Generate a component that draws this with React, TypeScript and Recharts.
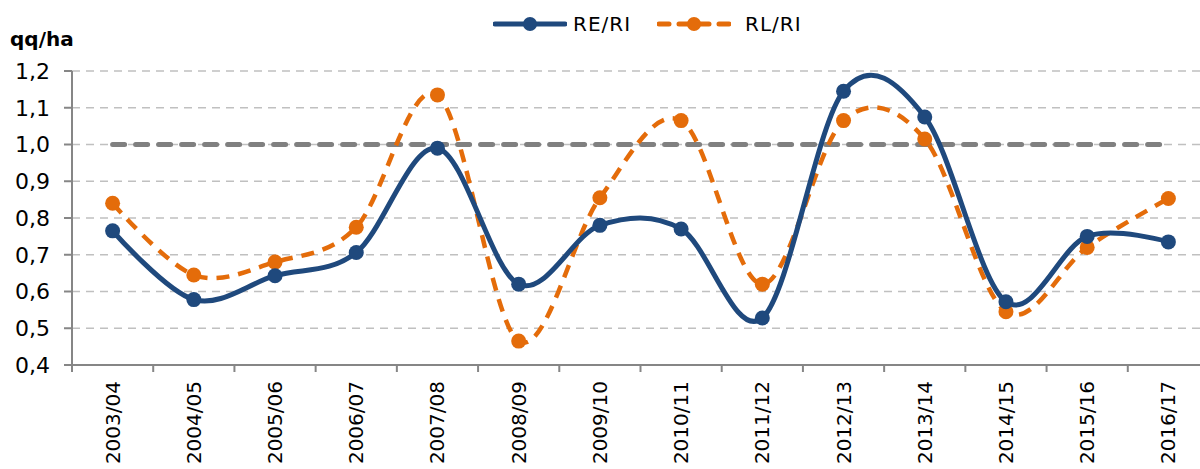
import { LineChart, Line, XAxis, YAxis, CartesianGrid, ReferenceLine } from "recharts";

const campaigns = [
  "2003/04", "2004/05", "2005/06", "2006/07", "2007/08", "2008/09", "2009/10",
  "2010/11", "2011/12", "2012/13", "2013/14", "2014/15", "2015/16", "2016/17",
];
const reRi = [0.765, 0.578, 0.643, 0.706, 0.99, 0.62, 0.78, 0.77, 0.528, 1.145, 1.075, 0.572, 0.75, 0.735];
const rlRi = [0.84, 0.645, 0.68, 0.775, 1.135, 0.465, 0.855, 1.065, 0.62, 1.065, 1.015, 0.545, 0.72, 0.853];
const yTicks = [0.4, 0.5, 0.6, 0.7, 0.8, 0.9, 1.0, 1.1, 1.2];
const threshold = 1;

const BLUE = "#1F497D";
const ORANGE = "#E46C0A";

const data = campaigns.map((c, i) => ({ name: c, re: reRi[i], rl: rlRi[i] }));

// Excel-style smoothing (Catmull-Rom, tangent/6)
const smooth = (context: any) => {
  let x0 = NaN, x1 = NaN, x2 = NaN, y0 = NaN, y1 = NaN, y2 = NaN;
  let pt = 0;
  let line: number | undefined;
  const k = 1 / 6;
  const seg = (x: number, y: number) => {
    context.bezierCurveTo(
      x1 + k * (x2 - x0), y1 + k * (y2 - y0),
      x2 + k * (x1 - x), y2 + k * (y1 - y),
      x2, y2
    );
  };
  return {
    areaStart() { line = 0; },
    areaEnd() { line = NaN; },
    lineStart() { x0 = x1 = x2 = y0 = y1 = y2 = NaN; pt = 0; },
    lineEnd() {
      if (pt === 2) context.lineTo(x2, y2);
      else if (pt === 3) seg(x1, y1);
      if (line || (line !== 0 && pt === 1)) context.closePath();
      line = 1 - (line as number);
    },
    point(x: number, y: number) {
      x = +x; y = +y;
      if (pt === 0) { pt = 1; line ? context.lineTo(x, y) : context.moveTo(x, y); }
      else if (pt === 1) { pt = 2; x1 = x; y1 = y; }
      else { pt = 3; seg(x, y); }
      x0 = x1; x1 = x2; x2 = x;
      y0 = y1; y1 = y2; y2 = y;
    },
  };
};

const CHART_W = 1210;
const PLOT_LEFT = 72;
const STEP = (CHART_W - 1 - PLOT_LEFT) / campaigns.length;

const XTick = (props: any) => {
  const { x, y, payload } = props;
  return (
    <g>
      <line x1={x - STEP / 2} y1={y - 8} x2={x - STEP / 2} y2={y - 1} stroke="#868686" strokeWidth={2} />
      <text
        x={x}
        y={y + 8}
        transform={`rotate(-90, ${x}, ${y + 8})`}
        textAnchor="end"
        dominantBaseline="central"
        fontFamily="DejaVu Sans"
        fontSize={20}
        fill="#000"
      >
        {payload.value}
      </text>
    </g>
  );
};

const LegendItem = ({ color, dashed, label, gap, right }: { color: string; dashed?: boolean; label: string; gap: number; right: number }) => (
  <div style={{ display: "flex", alignItems: "center", marginRight: right }}>
    <svg width={74} height={20}>
      <line
        x1={2}
        y1={10}
        x2={72}
        y2={10}
        stroke={color}
        strokeWidth={5}
        strokeLinecap="round"
        strokeDasharray={dashed ? "10 10" : undefined}
      />
      <circle cx={37} cy={10} r={7} fill={color} />
    </svg>
    <span style={{ marginLeft: gap, fontSize: 20, letterSpacing: 1, color: "#000" }}>{label}</span>
  </div>
);

export default function App() {
  return (
    <div
      style={{
        position: "absolute",
        left: 0,
        top: 0,
        width: 1200,
        height: 469,
        overflow: "hidden",
        background: "#fff",
        fontFamily: "DejaVu Sans",
      }}
    >
      <div style={{ position: "absolute", left: 493, top: 12, display: "flex" }}>
        <LegendItem color={BLUE} label="RE/RI" gap={6} right={26} />
        <LegendItem color={ORANGE} dashed label="RL/RI" gap={14} right={0} />
      </div>
      <div style={{ position: "absolute", left: 10, top: 27, fontSize: 20, fontWeight: "bold", color: "#000" }}>
        qq/ha
      </div>
      <LineChart
        width={CHART_W}
        height={469}
        data={data}
        margin={{ top: 71, right: 1, bottom: 0, left: 0 }}
      >
        <CartesianGrid
          vertical={false}
          stroke="#C0C0C0"
          strokeWidth={1.5}
          strokeDasharray="8 6"
        />
        <XAxis
          dataKey="name"
          scale="band"
          interval={0}
          height={104}
          tickLine={false}
          axisLine={{ stroke: "#868686", strokeWidth: 2 }}
          tick={<XTick />}
        />
        <YAxis
          domain={[0.4, 1.2]}
          ticks={yTicks}
          width={PLOT_LEFT}
          tickSize={8}
          tickMargin={14}
          tickLine={{ stroke: "#868686", strokeWidth: 2 }}
          axisLine={{ stroke: "#868686", strokeWidth: 2 }}
          tickFormatter={(v: number) => v.toFixed(1).replace(".", ",")}
          tick={{ fill: "#000", fontSize: 22, fontFamily: "DejaVu Sans" }}
        />
        <ReferenceLine
          segment={[
            { x: campaigns[0], y: threshold },
            { x: campaigns[campaigns.length - 1], y: threshold },
          ]}
          stroke="#808080"
          strokeWidth={5}
          strokeDasharray="12 11"
          strokeLinecap="round"
        />
        <Line
          dataKey="rl"
          name="RL/RI"
          type={smooth as any}
          stroke={ORANGE}
          strokeWidth={4.5}
          strokeDasharray="13 9"
          dot={{ r: 7.5, fill: ORANGE, stroke: ORANGE, strokeWidth: 0, strokeDasharray: "0" }}
          isAnimationActive={false}
        />
        <Line
          dataKey="re"
          name="RE/RI"
          type={smooth as any}
          stroke={BLUE}
          strokeWidth={5}
          dot={{ r: 7.5, fill: BLUE, stroke: BLUE, strokeWidth: 0 }}
          isAnimationActive={false}
        />
      </LineChart>
    </div>
  );
}
